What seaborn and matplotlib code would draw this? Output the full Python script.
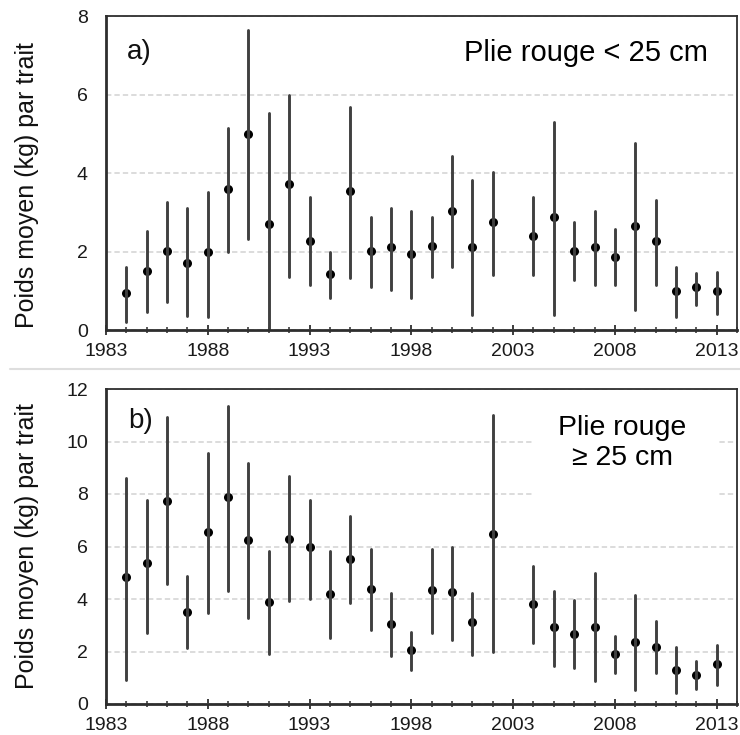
import numpy as np
import pandas as pd
import matplotlib
matplotlib.use("Agg")
import matplotlib.pyplot as plt
from matplotlib.lines import Line2D
from matplotlib.patches import Rectangle
from matplotlib.ticker import MultipleLocator
import seaborn as sns

# Survey years (no survey in 2003)
years = list(range(1984, 2003)) + list(range(2004, 2014))

# a) Plie rouge < 25 cm : mean weight per tow (kg) and 95% interval
small_mean = [0.95, 1.51, 2.02, 1.71, 1.98, 3.59, 4.99, 2.69, 3.71, 2.28,
              1.42, 3.55, 2.02, 2.11, 1.94, 2.14, 3.03, 2.11, 2.74,
              2.40, 2.87, 2.02, 2.11, 1.85, 2.66, 2.28, 0.99, 1.09, 0.99]
small_low = [0.21, 0.47, 0.72, 0.36, 0.34, 1.99, 2.31, 0.00, 1.36, 1.15,
             0.81, 1.32, 1.10, 1.02, 0.81, 1.36, 1.61, 0.38, 1.40,
             1.40, 0.38, 1.27, 1.15, 1.15, 0.51, 1.15, 0.34, 0.64, 0.42]
small_high = [1.61, 2.53, 3.27, 3.10, 3.52, 5.15, 7.64, 5.52, 5.99, 3.40,
              1.99, 5.69, 2.89, 3.10, 3.03, 2.89, 4.43, 3.82, 4.03,
              3.40, 5.31, 2.76, 3.03, 2.57, 4.76, 3.31, 1.61, 1.44, 1.49]

# b) Plie rouge >= 25 cm
large_mean = [4.82, 5.39, 7.74, 3.49, 6.54, 7.89, 6.23, 3.89, 6.30, 5.98,
              4.20, 5.54, 4.38, 3.06, 2.04, 4.33, 4.27, 3.12, 6.49,
              3.82, 2.93, 2.68, 2.93, 1.92, 2.36, 2.17, 1.28, 1.09, 1.54]
large_low = [0.93, 2.70, 4.58, 2.13, 3.47, 4.29, 3.28, 1.90, 3.91, 4.01,
             2.51, 3.85, 2.83, 1.81, 1.31, 2.70, 2.45, 1.88, 1.97,
             2.32, 1.43, 1.37, 0.86, 1.18, 0.54, 1.18, 0.42, 0.57, 0.74]
large_high = [8.61, 7.76, 10.92, 4.86, 9.58, 11.34, 9.18, 5.81, 8.67, 7.78,
              5.81, 7.15, 5.90, 4.23, 2.73, 5.90, 6.00, 4.23, 11.02,
              5.24, 4.29, 3.97, 4.99, 2.58, 4.16, 3.15, 2.16, 1.65, 2.26]

x_major = list(range(1983, 2014, 5))
ylabel = "Poids moyen (kg) par trait"


def long_form(mean, low, high):
    """Three rows per year (low, mean, high); median gives the mean,
    min/max give the interval."""
    return pd.DataFrame({
        "year": years * 3,
        "value": list(low) + list(mean) + list(high),
    })


def interval(v):
    return (v.min(), v.max())


sns.set_theme(style="white")
plt.rcParams["font.family"] = ["Liberation Sans", "DejaVu Sans"]

fig = plt.figure(figsize=(7.4, 7.35), dpi=100)
W, H = 740, 735
ax_a = fig.add_axes([106 / W, 1 - 330 / H, 631 / W, 314 / H])
ax_b = fig.add_axes([106 / W, 1 - 704 / H, 631 / W, 315 / H])


def draw_panel(ax, df, ymax):
    sns.pointplot(
        data=df, x="year", y="value", native_scale=True,
        estimator="median", errorbar=interval,
        color="black", linestyle="none", marker="o", markersize=6.5,
        markeredgewidth=0,
        err_kws={"color": "#404040", "linewidth": 2.1},
        ax=ax,
    )
    ax.set_xlim(1983, 2014)
    ax.set_ylim(0, ymax)
    ax.set_xticks(x_major)
    ax.xaxis.set_minor_locator(MultipleLocator(1))
    ax.set_yticks(np.arange(0, ymax + 1, 2))
    ax.set_xlabel("")
    ax.set_ylabel(ylabel, fontsize=18, color="#111111")
    ax.set_axisbelow(True)
    ax.yaxis.grid(True, linestyle=(0, (3.5, 2)), color="#d2d2d2", linewidth=1.1)
    ax.xaxis.grid(False)
    for side, sp in ax.spines.items():
        sp.set_visible(True)
        sp.set_color("#2e2e2e")
        sp.set_linewidth(2.0 if side in ("left", "bottom") else 1.3)
    ax.tick_params(axis="x", which="major", direction="inout", length=7,
                   width=1.3, color="#2e2e2e", pad=6, labelsize=14,
                   labelcolor="#1a1a1a", bottom=True)
    ax.tick_params(axis="x", which="minor", direction="inout", length=5,
                   width=1.1, color="#2e2e2e", bottom=True)
    ax.tick_params(axis="y", length=0, pad=13, labelsize=14,
                   labelcolor="#1a1a1a")


draw_panel(ax_a, long_form(small_mean, small_low, small_high), 8)
draw_panel(ax_b, long_form(large_mean, large_low, large_high), 12)

ax_a.yaxis.set_label_coords(-0.106, 0.46)
ax_b.yaxis.set_label_coords(-0.106, 0.5)

# Panel letters and titles
ax_a.text(0.033, 0.885, "a)", transform=ax_a.transAxes, fontsize=20,
          ha="left", va="center", color="#111111")
ax_b.text(0.035, 0.90, "b)", transform=ax_b.transAxes, fontsize=20,
          ha="left", va="center", color="#111111")

ax_a.text(0.9545, 0.882, "Plie rouge < 25 cm", transform=ax_a.transAxes,
          fontsize=21, ha="right", va="center", color="black")

# White backing behind the second title (hides the grid line it sits on)
ax_b.add_patch(Rectangle((0.675, 0.65), 0.296, 0.31, transform=ax_b.transAxes,
                         facecolor="white", edgecolor="none", zorder=1))
ax_b.text(0.818, 0.83, "Plie rouge\n\u2265 25 cm", transform=ax_b.transAxes,
          fontsize=20.5, ha="center", va="center", multialignment="center",
          color="black", zorder=3)

# Thin rule separating the two panels
fig.add_artist(Line2D([10 / W, 1.0], [1 - 369 / H, 1 - 369 / H],
                      color="#dedede", linewidth=1.5))

fig.savefig("out.png", dpi=100)
